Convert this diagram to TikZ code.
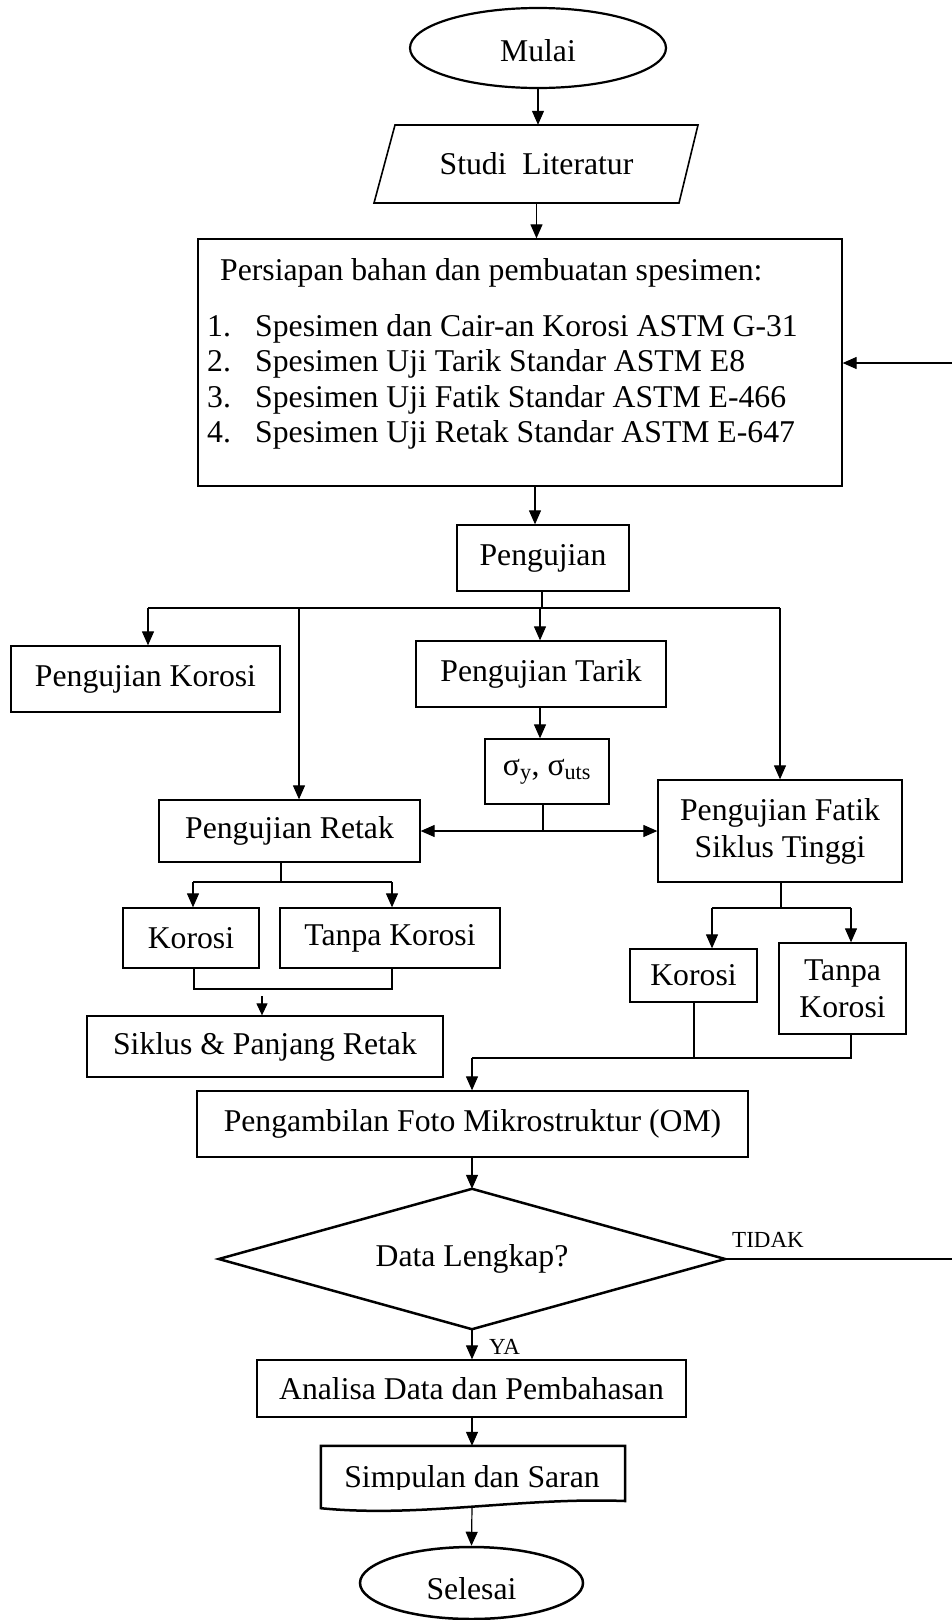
\documentclass[tikz,border=0pt]{standalone}
\usepackage{fontspec}
\setmainfont{Liberation Serif}
\usetikzlibrary{arrows.meta,shapes.geometric,calc}
\begin{document}
\begin{tikzpicture}[x=1pt,y=-1pt,
  font=\fontsize{31.7}{37}\selectfont,
  box/.style={draw,line width=1.3pt,inner sep=0pt,align=center},
  plain/.style={inner sep=0pt},
  term/.style={draw,ellipse,line width=2.2pt,inner sep=0pt},
  conn/.style={line width=1.2pt,-{Triangle[length=14pt,width=12pt]}},
  wire/.style={line width=1.2pt},
  small/.style={font=\fontsize{23}{26}\selectfont}]

\useasboundingbox (0,0) rectangle (952,1620);

% ---- start and literature study
\node[term,minimum width=256pt,minimum height=80pt] (mulai) at (538,48) {};
\node[plain] (mulaitext) at (538,51) {Mulai};
\node[plain,minimum width=305pt,minimum height=78pt] (studi) at (536.5,164) {Studi~ Literatur};
\draw[line width=1.6pt] (395,125) -- (698,125) -- (679,203) -- (374,203) -- cycle;

% ---- preparation box with its list
\node[box,minimum width=644pt,minimum height=247pt] (prep) at (520,362.5) {};
\node[plain,anchor=base west] (prephead) at (220,280) {Persiapan bahan dan pembuatan spesimen:};
\node[plain,anchor=base west] (n1) at (207,336) {1.};
\node[plain,anchor=base west] (t1) at (255,336) {Spesimen dan Cair-an Korosi ASTM G-31};
\node[plain,anchor=base west] (n2) at (207,371.5) {2.};
\node[plain,anchor=base west] (t2) at (255,371.5) {Spesimen Uji Tarik Standar ASTM E8};
\node[plain,anchor=base west] (n3) at (207,407) {3.};
\node[plain,anchor=base west] (t3) at (255,407) {Spesimen Uji Fatik Standar ASTM E-466};
\node[plain,anchor=base west] (n4) at (207,442.5) {4.};
\node[plain,anchor=base west] (t4) at (255,442.5) {Spesimen Uji Retak Standar ASTM E-647};

% ---- testing
\node[box,minimum width=172pt,minimum height=66pt] (pengujian) at (543,558) {Pengujian};
\node[box,minimum width=269pt,minimum height=66pt] (pkorosi) at (145.5,679) {Pengujian Korosi};
\node[box,minimum width=250pt,minimum height=66pt] (ptarik) at (541,674) {Pengujian Tarik};
\node[box,minimum width=124pt,minimum height=65pt] (sigma) at (547,771.5) {σ\textsubscript{y}, σ\textsubscript{uts}};
\node[box,minimum width=261pt,minimum height=62pt] (pretak) at (289.5,831) {Pengujian Retak};
\node[box,minimum width=244pt,minimum height=102pt] (pfatik) at (780,831) {Pengujian Fatik\\Siklus Tinggi};
\node[box,minimum width=136pt,minimum height=60pt] (rkorosi) at (191,938) {Korosi};
\node[box,minimum width=220pt,minimum height=60pt] (rtanpa) at (390,938) {Tanpa Korosi};
\node[box,minimum width=356pt,minimum height=61pt] (siklus) at (265,1046.5) {Siklus \& Panjang Retak};
\node[box,minimum width=127pt,minimum height=53pt] (fkorosi) at (693.5,975.5) {Korosi};
\node[box,minimum width=127pt,minimum height=91pt] (ftanpa) at (842.5,988.5) {Tanpa\\Korosi};

% ---- microstructure, decision, results
\node[box,minimum width=551pt,minimum height=66pt] (om) at (472.5,1124) {Pengambilan Foto Mikrostruktur (OM)};
\node[plain,minimum width=506pt,minimum height=140pt] (data) at (472,1259) {Data Lengkap?};
\draw[line width=2.5pt] (data.north) -- (data.east) -- (data.south) -- (data.west) -- cycle;
\node[plain,small,anchor=base] (tidak) at (768,1247) {TIDAK};
\node[plain,small,anchor=base west] (ya) at (489,1354) {YA};
\node[box,minimum width=429pt,minimum height=57pt] (analisa) at (471.5,1388.5) {Analisa Data dan Pembahasan};

\node[plain,minimum width=304pt,minimum height=62pt] (simp) at (473,1477) {};
\draw[line width=2.5pt] (simp.north west) -- (simp.north east) -- (625,1501)
  .. controls (520,1497) and (420,1518) .. (simp.south west) -- cycle;
\begin{scope}
  \clip (321,1446) rectangle (625,1489);
  \node[plain,anchor=base] (simptext) at (472,1487) {Simpulan dan Saran};
\end{scope}
\coordinate (simpbot) at (472,1507);
\node[term,line width=2.5pt,minimum width=223pt,minimum height=72pt] (selesai) at (471.5,1583) {};
\node[plain] (selesaitext) at (471.5,1589) {Selesai};

% ---- connectors: main line
\draw[conn] (mulai.south) -- (mulai.south |- studi.north);
\draw[conn] (studi.south) -- (studi.south |- prep.north);
\draw[conn] (535,0 |- prep.south) -- (535,0 |- pengujian.north);

% ---- branches out of the testing step
\coordinate (busL) at (148,608);
\coordinate (busR) at (780,608);
\draw[wire] (542,0 |- pengujian.south) -- (542,608);
\draw[wire] (busL) -- (busR);
\draw[conn] (busL) -- (busL |- pkorosi.north);
\draw[conn] (299,608) -- (299,0 |- pretak.north);
\draw[conn] (540,608) -- (540,0 |- ptarik.north);
\draw[conn] (busR) -- (busR |- pfatik.north);

\draw[conn] (540,0 |- ptarik.south) -- (540,0 |- sigma.north);
\coordinate (sigsplit) at (543,831);
\draw[wire] (543,0 |- sigma.south) -- (sigsplit);
\draw[conn] (sigsplit) -- (pretak.east);
\draw[conn] (sigsplit) -- (pfatik.west);

% ---- crack test branch
\draw[wire] (281,0 |- pretak.south) -- (281,882);
\draw[wire] (193,882) -- (392,882);
\draw[conn] (193,882) -- (193,0 |- rkorosi.north);
\draw[conn] (392,882) -- (392,0 |- rtanpa.north);
\draw[wire] (194,0 |- rkorosi.south) -- (194,989) -- (392,989) -- (392,0 |- rtanpa.south);
\coordinate (sikin) at (262,996);
\draw[line width=1.2pt,-{Triangle[length=12pt,width=11pt]}] (sikin) -- (sikin |- siklus.north);

% ---- fatigue test branch
\draw[wire] (781,0 |- pfatik.south) -- (781,908);
\draw[wire] (712,908) -- (851,908);
\draw[conn] (712,908) -- (712,0 |- fkorosi.north);
\draw[conn] (851,908) -- (851,0 |- ftanpa.north);
\coordinate (omin) at (472,1058);
\draw[wire] (694,0 |- fkorosi.south) -- (694,1058);
\draw[wire] (851,0 |- ftanpa.south) -- (851,1058) -- (omin);
\draw[conn] (omin) -- (omin |- om.north);

% ---- decision and end
\draw[conn] (472,0 |- om.south) -- (data.north);
\draw[conn] (data.south) -- (data.south |- analisa.north);
\coordinate (tidakend) at (952,1259);
\coordinate (retstart) at (952,363);
\draw[wire] (data.east) -- (tidakend);
\draw[conn] (retstart) -- (prep.east |- retstart);
\draw[conn] (472,0 |- analisa.south) -- (472,0 |- simp.north);
\draw[conn] (simpbot) -- (selesai.north);
\end{tikzpicture}
\end{document}
